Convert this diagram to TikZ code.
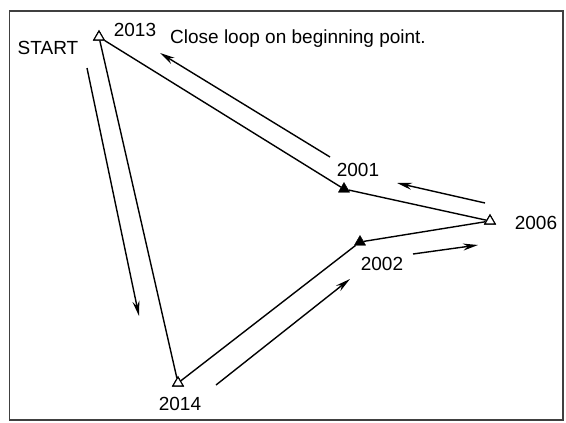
\documentclass[tikz,border=0pt]{standalone}
\usepackage{fontspec}
\setmainfont{Liberation Sans}
\usetikzlibrary{positioning, arrows.meta, shapes.geometric}

\begin{document}
\begin{tikzpicture}[x=1pt, y=-1pt,
    station/.style={regular polygon, regular polygon sides=3, draw, line width=1.1pt,
        inner sep=0pt, minimum size=12pt, fill=white},
    turn/.style={regular polygon, regular polygon sides=3, draw, fill=black,
        inner sep=0pt, minimum size=13pt},
    leg/.style={line width=1.4pt},
    dir/.style={line width=1.4pt, -{Stealth[length=15pt, width=7pt]}},
    lbl/.style={font=\fontsize{19}{22}\selectfont, inner sep=0pt}]
    \useasboundingbox (0,0) rectangle (566,423);

    % Frame
    \draw[line width=1.8pt, black!75] (9.5,11) rectangle (563,420);

    % Traverse points
    \node[turn] (p2001) at (344,189) {};
    \node[turn] (p2002) at (360,242) {};
    \node[station] (p2013) at (99,37) {};
    \node[station] (p2006) at (490,221) {};
    \node[station] (p2014) at (178,383) {};

    % Traverse legs
    \draw[leg] (p2013) -- (p2001) -- (p2006) -- (p2002) -- (p2014) -- (p2013);
    \node[station] at (p2013) {};
    \node[station] at (p2006) {};
    \node[station] at (p2014) {};

    % Labels
    \node[lbl] (start) at (48,48) {START};
    \node[lbl] (l2013) at (135,30) {2013};
    \node[lbl, anchor=west] (note) at (170,39) {Close loop on beginning point.};
    \node[lbl] (l2001) at (358,170) {2001};
    \node[lbl] (l2006) at (536,223) {2006};
    \node[lbl] (l2002) at (382,264) {2002};
    \node[lbl] (l2014) at (180,404) {2014};

    % Direction of travel
    \coordinate (a1) at (330,157); \coordinate (b1) at (160,53);
    \coordinate (a2) at (87,68);   \coordinate (b2) at (139,316);
    \coordinate (a3) at (216,385); \coordinate (b3) at (350,279);
    \coordinate (a4) at (413,254); \coordinate (b4) at (478,245);
    \coordinate (a5) at (485,203); \coordinate (b5) at (397,183);
    \foreach \i in {1,...,5} {
        \draw[dir] (a\i) -- (b\i);
    }
\end{tikzpicture}
\end{document}
